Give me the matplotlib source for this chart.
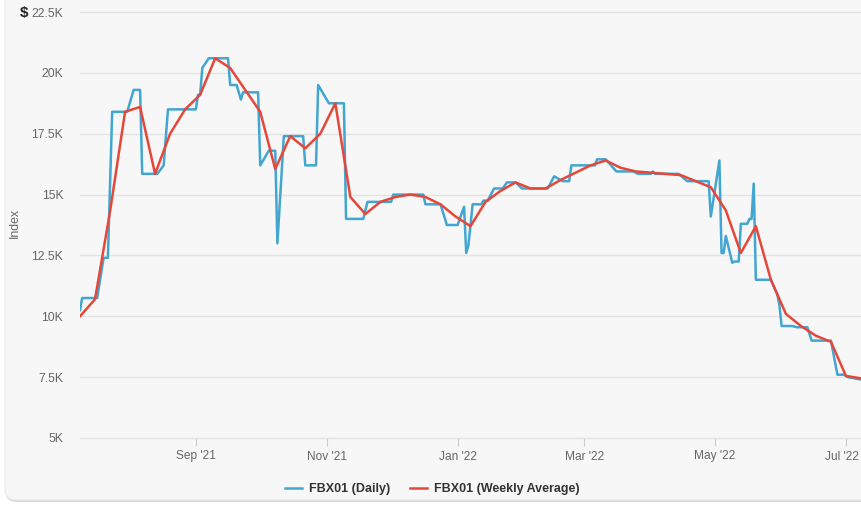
import numpy as np
import matplotlib.pyplot as plt
import matplotlib.dates as mdates
from matplotlib.lines import Line2D
from matplotlib.patches import FancyBboxPatch
from matplotlib.transforms import IdentityTransform, ScaledTranslation

plt.rcParams['font.family'] = ['Liberation Sans', 'DejaVu Sans']

# FBX01 daily index (turning points)
daily_dates = [
    '2021-07-09', '2021-07-10', '2021-07-17', '2021-07-20', '2021-07-22', '2021-07-24',
    '2021-07-31', '2021-08-03', '2021-08-06', '2021-08-07', '2021-08-14', '2021-08-17',
    '2021-08-19', '2021-09-01', '2021-09-02', '2021-09-03', '2021-09-04', '2021-09-07',
    '2021-09-16', '2021-09-17', '2021-09-20', '2021-09-22', '2021-09-23', '2021-09-30',
    '2021-10-01', '2021-10-05', '2021-10-08', '2021-10-09', '2021-10-12', '2021-10-21',
    '2021-10-22', '2021-10-27', '2021-10-28', '2021-11-02', '2021-11-09', '2021-11-10',
    '2021-11-18', '2021-11-20', '2021-12-01', '2021-12-02', '2021-12-16', '2021-12-17',
    '2021-12-24', '2021-12-27', '2022-01-01', '2022-01-04', '2022-01-05', '2022-01-06',
    '2022-01-08', '2022-01-12', '2022-01-13', '2022-01-15', '2022-01-18', '2022-01-22',
    '2022-01-24', '2022-01-28', '2022-01-31', '2022-02-12', '2022-02-15', '2022-02-16',
    '2022-02-19', '2022-02-22', '2022-02-23', '2022-03-06', '2022-03-07', '2022-03-11',
    '2022-03-16', '2022-03-24', '2022-03-26', '2022-04-01', '2022-04-02', '2022-04-03',
    '2022-04-14', '2022-04-18', '2022-04-28', '2022-04-29', '2022-05-03', '2022-05-04',
    '2022-05-05', '2022-05-06', '2022-05-09', '2022-05-10', '2022-05-12', '2022-05-13',
    '2022-05-16', '2022-05-17', '2022-05-18', '2022-05-19', '2022-05-20', '2022-05-27',
    '2022-05-30', '2022-05-31', '2022-06-01', '2022-06-06', '2022-06-08', '2022-06-13',
    '2022-06-15', '2022-06-24', '2022-06-27', '2022-06-30', '2022-07-02', '2022-07-08',
]
daily_values = [
    10250, 10750, 10750, 12400, 12400, 18400,
    18400, 19300, 19300, 15850, 15850, 16200,
    18500, 18500, 19100, 19100, 20200, 20600,
    20600, 19500, 19500, 18900, 19200, 19200,
    16200, 16800, 16800, 13000, 17400, 17400,
    16200, 16200, 19500, 18750, 18750, 14000,
    14000, 14700, 14700, 15000, 15000, 14600,
    14600, 13750, 13750, 14500, 12600, 12900,
    14600, 14600, 14750, 14750, 15250, 15250,
    15500, 15500, 15250, 15250, 15750, 15700,
    15550, 15550, 16200, 16200, 16450, 16450,
    15950, 15950, 15850, 15850, 15950, 15850,
    15850, 15550, 15550, 14100, 16400, 12600,
    12600, 13300, 12200, 12250, 12250, 13800,
    13800, 14000, 14000, 15450, 11500, 11500,
    10900, 10450, 9600, 9600, 9550, 9550,
    9000, 9000, 7600, 7600, 7500, 7400,
]

# FBX01 weekly average, one value per week starting 2021-07-09
weekly_start = '2021-07-09'
weekly_values = [
    10000, 10700, 14300, 18400, 18600, 15850, 17500, 18500, 19100, 20600,
    20200, 19300, 18400, 16050, 17400, 16900, 17500, 18750, 14900, 14200,
    14700, 14900, 15000, 14900, 14600, 14100, 13700, 14700, 15150, 15500,
    15250, 15250, 15600, 15900, 16200, 16400, 16100, 15950, 15900, 15850,
    15800, 15550, 15300, 14350, 12600, 13700, 11500, 10100, 9600, 9200,
    8950, 7550, 7450,
]

y_ticks = [5000, 7500, 10000, 12500, 15000, 17500, 20000, 22500]

blue = '#42a6d0'
red = '#e5473b'
label_grey = '#666666'

daily_x = np.array(daily_dates, dtype='datetime64[D]')
weekly_x = np.datetime64(weekly_start) + np.arange(len(weekly_values)) * np.timedelta64(7, 'D')

fig = plt.figure(figsize=(8.61, 5.05), dpi=100)
fig.patch.set_facecolor('white')

# card behind the chart, in pixel coordinates
shadow = FancyBboxPatch((5, 3), 900, 520, boxstyle='round,pad=0,rounding_size=12',
                        transform=IdentityTransform(), facecolor='#d9d9d9',
                        edgecolor='none', zorder=-3)
card = FancyBboxPatch((5, 5), 900, 520, boxstyle='round,pad=0,rounding_size=12',
                      transform=IdentityTransform(), facecolor='#f7f7f7',
                      edgecolor='#ececec', linewidth=0.8, zorder=-2)
fig.add_artist(shadow)
fig.add_artist(card)

ax = fig.add_axes([80 / 861, 67 / 505, 781 / 861, 426 / 505])
ax.set_facecolor('none')

ax.plot(daily_x, daily_values, color=blue, lw=1.8, solid_joinstyle='round', zorder=3)
ax.plot(weekly_x, weekly_values, color=red, lw=1.8, solid_joinstyle='round', zorder=4)

ax.set_xlim(np.datetime64('2021-07-09'), np.datetime64('2022-07-08'))
ax.set_ylim(5000, 22500)

ax.set_yticks(y_ticks)
ax.set_yticklabels([f'{v / 1000:g}K' for v in y_ticks])
ax.xaxis.set_major_locator(mdates.MonthLocator(bymonth=[1, 3, 5, 7, 9, 11]))
ax.xaxis.set_major_formatter(mdates.DateFormatter("%b '%y"))

ax.yaxis.grid(True, color='#e3e3e3', lw=1)
ax.set_axisbelow(True)
for line in ax.get_ygridlines():
    line.set_clip_on(False)
for side in ax.spines.values():
    side.set_visible(False)

ax.tick_params(axis='y', length=0, pad=12, labelsize=8.8, labelcolor=label_grey)
ax.tick_params(axis='x', length=6, width=0.8, color='#cccccc', pad=3,
               labelsize=8.6, labelcolor=label_grey)

# last month label sits right against the edge, nudge it in a little
fig.canvas.draw()
last_label = ax.get_xticklabels()[-1]
last_label.set_transform(last_label.get_transform()
                         + ScaledTranslation(-3 / 72, 0, fig.dpi_scale_trans))

fig.text(20 / 861, 1 - 13 / 505, '$', fontsize=11, fontweight='bold',
         ha='left', va='center', color='#222222')
fig.text(15 / 861, 1 - 223 / 505, 'Index', rotation=90, ha='center', va='center',
         fontsize=8.8, color=label_grey)

handles = [Line2D([], [], color=blue, lw=1.8), Line2D([], [], color=red, lw=1.8)]
leg = fig.legend(handles, ['FBX01 (Daily)', 'FBX01 (Weekly Average)'],
                 loc='center', bbox_to_anchor=(432 / 861, 1 - 489 / 505), ncol=2,
                 frameon=False, prop={'weight': 'bold', 'size': 9},
                 handlelength=1.4, handletextpad=0.5, columnspacing=1.6)
for t in leg.get_texts():
    t.set_color('#333333')

fig.savefig('out.png', dpi=100, facecolor=fig.get_facecolor())
